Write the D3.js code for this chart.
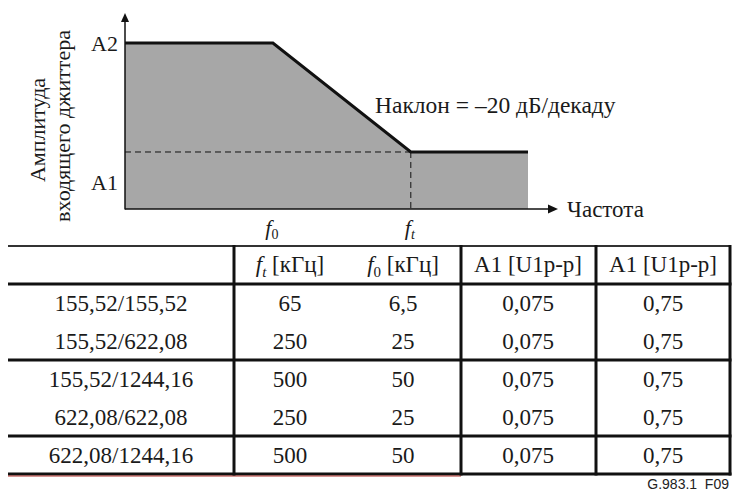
<!DOCTYPE html>
<html><head><meta charset="utf-8">
<script src="https://cdn.jsdelivr.net/npm/d3@7"></script>
<style>
body{margin:0;background:#fff}
svg{display:block}
</style>
</head><body>
<svg id="c" width="734" height="494" font-family="'Liberation Serif', Tinos, 'Times New Roman', 'DejaVu Serif', serif"></svg>
<script>
// ---- mask data (schematic) ----
const maskFreq = [0.55, 6.5, 65, 460];        // kHz: start, f0, ft, end
const maskAmp  = [0.75, 0.75, 0.075, 0.075];  // UIp-p: A2 ... A1
const ampLabelText = ["A2", "A1"];
const ampLabelVals = [0.75, 0.075];
const freqMarkSub = ["0", "t"];
const freqMarkVals = [6.5, 65];
const slopeText = "Наклон = –20 дБ/декаду";
const xAxisTitle = "Частота";
const yAxisTitle = ["Амплитуда", "входящего джиттера"];

// ---- table data ----
const headerTexts = [
  {sub: "t", rest: " [кГц]"},
  {sub: "0", rest: " [кГц]"},
  {plain: "A1 [U1p-p]"},
  {plain: "A1 [U1p-p]"}
];
const bitRates = ["155,52/155,52", "155,52/622,08", "155,52/1244,16", "622,08/622,08", "622,08/1244,16"];
const ftKHz = [65, 250, 500, 250, 500];
const f0KHz = [6.5, 25, 50, 25, 50];
const a1Vals = [0.075, 0.075, 0.075, 0.075, 0.075];
const a2Vals = [0.75, 0.75, 0.75, 0.75, 0.75];
const rowGroup = [0, 0, 1, 1, 2];
const footnote = "G.983.1  F09";

const svg = d3.select("#c");
const loc = d3.formatLocale({decimal: ",", thousands: " ", grouping: [3], currency: ["", ""]});
const fmt = loc.format("~g");
const ink = "#1a1a1a";

// ---- chart ----
const x = d3.scaleLog().domain([maskFreq[0], maskFreq[3]]).range([125, 528]);
const y = d3.scaleLog().domain([0.0225, 1.413]).range([209, 13]);
const pts = maskFreq.map((f, i) => ({f, a: maskAmp[i]}));
const x0 = x.range()[0], yBase = y.range()[0];

svg.append("path").datum(pts)
  .attr("d", d3.area().x(d => x(d.f)).y0(yBase).y1(d => y(d.a)))
  .attr("fill", "#a7a7a7");

const A1 = maskAmp[3];
const ft = freqMarkVals[1];
svg.append("line").attr("x1", x0).attr("x2", x(ft)).attr("y1", y(A1)).attr("y2", y(A1))
  .attr("stroke", "#111").attr("stroke-width", 1).attr("stroke-dasharray", "6,4");
svg.append("line").attr("x1", x(ft)).attr("x2", x(ft)).attr("y1", y(A1)).attr("y2", yBase)
  .attr("stroke", "#111").attr("stroke-width", 1).attr("stroke-dasharray", "6,4");

svg.append("path").datum(pts)
  .attr("d", d3.line().x(d => x(d.f)).y(d => y(d.a)))
  .attr("fill", "none").attr("stroke", "#111").attr("stroke-width", 3);

// axes
const yTop = y.range()[1];
svg.append("line").attr("x1", x0).attr("x2", x0).attr("y1", yBase + 0.5).attr("y2", yTop + 7)
  .attr("stroke", "#111").attr("stroke-width", 1.5);
svg.append("path").attr("d", `M${x0},${yTop} L${x0 - 4},${yTop + 9} L${x0 + 4},${yTop + 9} Z`).attr("fill", "#111");
const xEnd = x.range()[1] + 30;
svg.append("line").attr("x1", x0).attr("x2", xEnd - 7).attr("y1", yBase).attr("y2", yBase)
  .attr("stroke", "#111").attr("stroke-width", 1.5);
svg.append("path").attr("d", `M${xEnd},${yBase} L${xEnd - 10},${yBase - 4.5} L${xEnd - 10},${yBase + 4.5} Z`).attr("fill", "#111");

// amplitude labels (A1 label sits below its dashed line, as in the original drawing)
const ampLabelDy = [8, 38];
ampLabelText.forEach((t, i) => {
  svg.append("text").attr("x", x0 - 7).attr("y", y(ampLabelVals[i]) + ampLabelDy[i]).attr("fill", ink)
    .attr("text-anchor", "end").attr("font-size", 22).text(t);
});
// frequency labels
freqMarkVals.forEach((f, i) => {
  const t = svg.append("text").attr("x", x(f) - 1).attr("y", 235).attr("text-anchor", "middle").attr("font-size", 22).attr("fill", ink);
  t.append("tspan").attr("font-style", "italic").text("f");
  t.append("tspan").attr("font-size", 14).attr("dy", 4).attr("font-style", i === 1 ? "italic" : "normal").text(freqMarkSub[i]);
});
svg.append("text").attr("x", 375).attr("y", 113).attr("font-size", 23.5).attr("fill", ink).text(slopeText);
svg.append("text").attr("x", xEnd + 9).attr("y", yBase + 8).attr("font-size", 23).attr("fill", ink).text(xAxisTitle);
svg.append("text").attr("transform", "translate(45,130) rotate(-90)").attr("text-anchor", "middle")
  .attr("font-size", 22).attr("fill", ink).text(yAxisTitle[0]);
svg.append("text").attr("transform", "translate(70,126) rotate(-90)").attr("text-anchor", "middle")
  .attr("font-size", 22).attr("fill", ink).text(yAxisTitle[1]);

// ---- table ----
const tLeft = 8, tRight = 730, tTop = 246, hdrBottom = 284, tBottom = 474;
const vCols = [234, 461, 596];
const colCenters = [121, 290, 403, 528, 663];
const rowBand = d3.scaleBand().domain(d3.range(bitRates.length)).range([hdrBottom, tBottom]);
const fs = 23;

svg.append("line").attr("x1", tLeft).attr("x2", tRight).attr("y1", tTop).attr("y2", tTop)
  .attr("stroke", "#333").attr("stroke-width", 2);
const hRules = [hdrBottom];
rowGroup.forEach((g, i) => { if (i > 0 && g !== rowGroup[i - 1]) hRules.push(rowBand(i)); });
hRules.push(tBottom);
hRules.forEach(yy => svg.append("line").attr("x1", tLeft).attr("x2", tRight + 1.5).attr("y1", yy).attr("y2", yy)
  .attr("stroke", "#111").attr("stroke-width", 3));
svg.append("line").attr("x1", tLeft).attr("x2", vCols[1]).attr("y1", tBottom + 2).attr("y2", tBottom + 2)
  .attr("stroke", "#b0302a").attr("stroke-width", 1);
vCols.concat([tRight]).forEach(xx => svg.append("line").attr("x1", xx).attr("x2", xx)
  .attr("y1", tTop - 1).attr("y2", tBottom + 1.5).attr("stroke", "#111").attr("stroke-width", 3));

const hy = (tTop + hdrBottom) / 2 + 7;
headerTexts.forEach((h, i) => {
  const t = svg.append("text").attr("x", colCenters[i + 1]).attr("y", hy).attr("text-anchor", "middle").attr("font-size", fs).attr("fill", ink);
  if (h.plain) { t.text(h.plain); return; }
  t.append("tspan").attr("font-style", "italic").text("f");
  t.append("tspan").attr("font-size", 15).attr("dy", 5).attr("font-style", h.sub === "t" ? "italic" : "normal").text(h.sub);
  t.append("tspan").attr("dy", -5).text(h.rest);
});

bitRates.forEach((r, i) => {
  const cy = rowBand(i) + rowBand.bandwidth() / 2 + 7.5;
  const cells = [r, fmt(ftKHz[i]), fmt(f0KHz[i]), fmt(a1Vals[i]), fmt(a2Vals[i])];
  cells.forEach((c, j) => svg.append("text").attr("x", colCenters[j]).attr("y", cy)
    .attr("text-anchor", "middle").attr("font-size", fs).attr("fill", ink).text(c));
});

svg.append("text").attr("x", 729).attr("y", 489).attr("text-anchor", "end")
  .attr("font-family", "'Liberation Sans', Arimo, Arial, sans-serif").attr("font-size", 14).attr("fill", "#222")
  .style("white-space", "pre").text(footnote);
</script>
</body></html>
